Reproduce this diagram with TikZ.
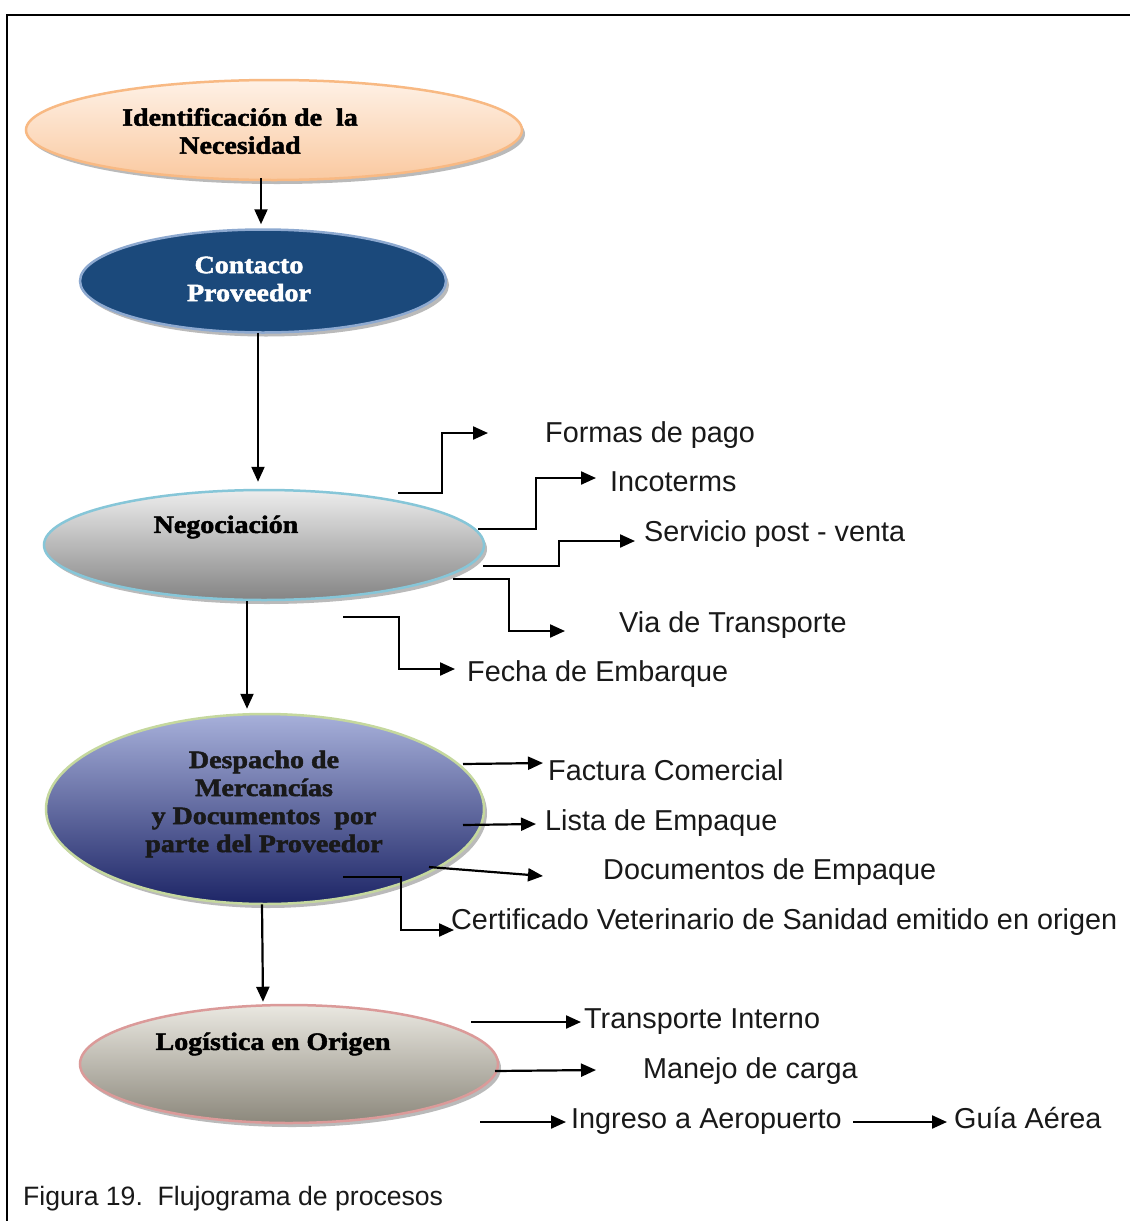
\documentclass[tikz,border=0pt]{standalone}
\usepackage{fontspec}
\setmainfont{Liberation Sans}
\newfontfamily\heavyfont{Liberation Serif}[UprightFont=* Bold, FakeStretch=1.12, FakeBold=2]
\usetikzlibrary{shapes.geometric,arrows.meta,shadows}
\definecolor{identT}{HTML}{FEF1E6}
\definecolor{identB}{HTML}{FAC9A0}
\definecolor{identD}{HTML}{F8B983}
\definecolor{contF}{HTML}{1B497B}
\definecolor{contD}{HTML}{8DA9D0}
\definecolor{negT}{HTML}{EDEDED}
\definecolor{negB}{HTML}{848484}
\definecolor{negD}{HTML}{86C6D8}
\definecolor{despT}{HTML}{A7B0DA}
\definecolor{despB}{HTML}{1D2566}
\definecolor{despD}{HTML}{C5D89E}
\definecolor{logT}{HTML}{EAE8E1}
\definecolor{logB}{HTML}{8C887C}
\definecolor{logD}{HTML}{DB9A99}
\begin{document}
\begin{tikzpicture}[x=1pt,y=-1pt,
  proc/.style={ellipse, draw, line width=2.5pt, inner sep=0pt,
    drop shadow={shadow xshift=3pt,shadow yshift=-4pt,opacity=0.45,fill=black!60}},
  ptext/.style={font={\heavyfont\fontsize{25}{28}\selectfont}, align=center, inner sep=0pt},
  lbl/.style={font={\fontsize{28.8}{32}\selectfont}, anchor=base west, inner sep=0pt, text=black!90},
  arr/.style={line width=2.2pt, -{Triangle[length=15pt,width=13pt]}},
  elbow/.style={line width=2.2pt, -{Triangle[length=15pt,width=13pt]}},
]
\useasboundingbox (0,0) rectangle (1130,1221);
\fill[white] (0,0) rectangle (1130,1221);
% frame
\draw[line width=2pt] (7,1221) -- (7,15) -- (1130,15);

% process ellipses
\node[proc, minimum width=496pt, minimum height=100pt, top color=identT, bottom color=identB, draw=identD] (n1) at (274,130) {};
\node[ptext] (t1) at (240,131) {Identificación de\ \ la\\Necesidad};

\node[proc, minimum width=366pt, minimum height=103pt, fill=contF, draw=contD] (n2) at (263,281) {};
\node[ptext, text=white] (t2) at (249,279) {Contacto\\Proveedor};

\node[proc, minimum width=440pt, minimum height=110pt, top color=negT, bottom color=negB, draw=negD] (n3) at (264,545) {};
\node[ptext] (t3) at (226,527) {Negociación};

\node[proc, minimum width=438pt, minimum height=190pt, top color=despT, bottom color=despB, draw=despD] (n4) at (265,809) {};
\node[ptext, text=black!90] (t4) at (264,804) {Despacho de\\Mercancías\\y Documentos\ \ por\\parte del Proveedor};

\node[proc, minimum width=418pt, minimum height=118pt, top color=logT, bottom color=logB, draw=logD] (n5) at (289,1064) {};
\node[ptext] (t5) at (273,1044) {Logística en Origen};

% main flow arrows
\draw[arr] ([xshift=-13pt,yshift=3pt]n1.south) -- ([xshift=-2pt,yshift=4pt]n2.north);
\draw[arr] ([xshift=-5pt,yshift=1pt]n2.south) -- ([xshift=-6pt,yshift=7pt]n3.north);
\draw[arr] ([xshift=-17pt]n3.south) -- ([xshift=-18pt,yshift=4pt]n4.north);
\draw[arr] ([xshift=-3pt,yshift=1pt]n4.south) -- ([xshift=-26pt,yshift=2pt]n5.north);

% labels
\node[lbl] (f1) at (545,442) {Formas de pago};
\node[lbl] (f2) at (610,491) {Incoterms};
\node[lbl] (f3) at (644,541) {Servicio post - venta};
\node[lbl] (f4) at (619,632) {Via de Transporte};
\node[lbl] (f5) at (467,681) {Fecha de Embarque};

\node[lbl] (g1) at (548,780) {Factura Comercial};
\node[lbl] (g2) at (545,830) {Lista de Empaque};
\node[lbl] (g3) at (603,879) {Documentos de Empaque};
\node[lbl] (g4) at (451,929) {Certificado Veterinario de Sanidad emitido en origen};

\node[lbl] (h1) at (584,1028) {Transporte Interno};
\node[lbl] (h2) at (643,1078) {Manejo de carga};
\node[lbl] (h3) at (571,1128) {Ingreso a Aeropuerto};
\node[lbl] (h4) at (954,1128) {Guía Aérea};

\node[lbl, font={\fontsize{26.6}{30}\selectfont}] (cap) at (23,1205) {Figura 19.\ \ Flujograma de procesos};

% branch coordinates
\coordinate (a1) at (398,493); \coordinate (b1) at (488,433);
\coordinate (a2) at (478,529); \coordinate (b2) at (596,478);
\coordinate (a3) at (483,566); \coordinate (b3) at (635,541);
\coordinate (a4) at (453,579); \coordinate (b4) at (565,631);
\coordinate (a5) at (343,617); \coordinate (b5) at (455,669);

\draw[elbow] (a1) -- (442,493) |- (b1);
\draw[elbow] (a2) -- (536,529) |- (b2);
\draw[elbow] (a3) -- (559,566) |- (b3);
\draw[elbow] (a4) -- (509,579) |- (b4);
\draw[elbow] (a5) -- (399,617) |- (b5);

\coordinate (c1) at (463,764); \coordinate (d1) at (543,763);
\coordinate (c2) at (463,825); \coordinate (d2) at (536,824);
\coordinate (c3) at (429,867); \coordinate (d3) at (543,876);
\coordinate (c4) at (343,877); \coordinate (d4) at (454,930);
\draw[arr] (c1) -- (d1);
\draw[arr] (c2) -- (d2);
\draw[arr] (c3) -- (d3);
\draw[elbow] (c4) -- (401,877) |- (d4);

\coordinate (e1) at (471,1022); \coordinate (k1) at (581,1022);
\coordinate (e2) at (495,1071); \coordinate (k2) at (596,1070);
\coordinate (e3) at (480,1122); \coordinate (k3) at (566,1122);
\coordinate (m1) at (853,1122); \coordinate (m2) at (947,1122);
\draw[arr] (e1) -- (k1);
\draw[arr] (e2) -- (k2);
\draw[arr] (e3) -- (k3);
\draw[arr] (m1) -- (m2);
\end{tikzpicture}
\end{document}
